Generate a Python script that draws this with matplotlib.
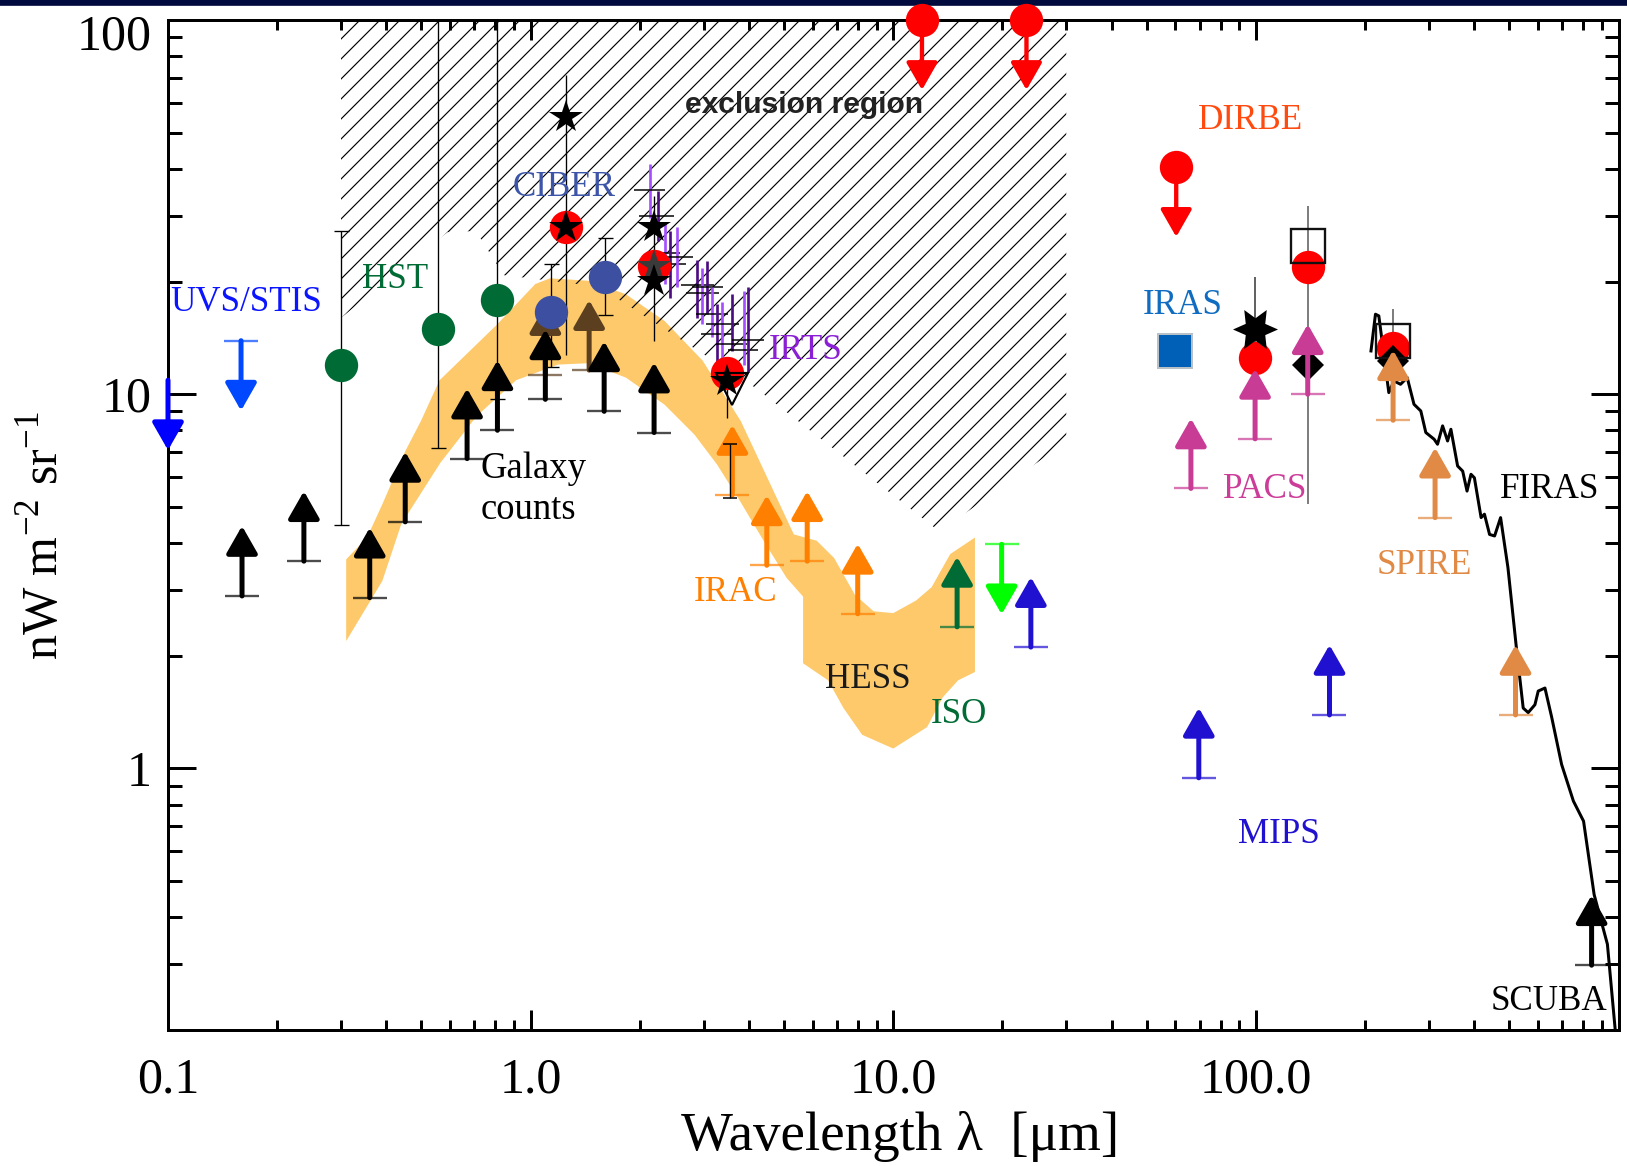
import numpy as np
import matplotlib
matplotlib.use('Agg')
import matplotlib.pyplot as plt
import matplotlib.transforms as mtransforms
from matplotlib.patches import FancyArrowPatch, Polygon, Rectangle
from matplotlib.ticker import NullFormatter

plt.rcParams['font.family'] = ['Liberation Serif', 'DejaVu Serif']
plt.rcParams['mathtext.fontset'] = 'custom'
plt.rcParams['mathtext.rm'] = 'Liberation Serif'
plt.rcParams['hatch.linewidth'] = 0.7

# ---------------- data (wavelength in micron, intensity in nW m^-2 sr^-1) -------------
# HESS band: upper edge left->right, lower edge right->left
band_up_x = [0.31, 0.354, 0.39, 0.451, 0.498, 0.561, 0.805, 1.03, 1.13, 1.44, 1.83, 2.34,
             2.98, 3.8, 5.32, 6.15, 6.87, 7.84, 8.83, 10.0, 11.56, 12.76, 14.36, 16.8]
band_up_y = [3.62, 4.14, 5.08, 7.04, 8.47, 10.9, 15.3, 19.7, 20.4, 20.1, 18.5, 15.7,
             12.3, 8.47, 4.22, 4.06, 3.65, 2.91, 2.63, 2.6, 2.81, 3.05, 3.74, 4.14]
band_lo_x = [16.8, 15.1, 13.7, 12.4, 10.0, 8.21, 7.29, 6.61, 5.64, 5.64, 5.08, 4.39, 3.78,
             3.27, 2.83, 2.34, 1.83, 1.44, 1.19, 0.912, 0.71, 0.564, 0.44, 0.39, 0.31]
band_lo_y = [1.81, 1.72, 1.55, 1.29, 1.13, 1.23, 1.45, 1.72, 1.91, 2.88, 3.23, 4.06, 5.18,
             6.48, 7.8, 9.38, 11.08, 12.1, 12.0, 10.9, 8.74, 6.56, 4.5, 3.17, 2.19]

# exclusion region outline
excl_x = [0.3, 0.3, 0.59, 0.706, 0.843, 1.54, 4.17, 13.4, 30, 30]
excl_y = [100, 16.0, 27.1, 27.3, 20.8, 19.4, 10.4, 4.3, 7.45, 100]

# HST
hst_x = [0.30, 0.555, 0.81]
hst_y = [11.97, 14.9, 17.9]
hst_lo = [4.47, 7.2, 9.73]
hst_hi = [27.3, 150, 150]

# CIBER
ciber_x = [1.14, 1.6]
ciber_y = [16.6, 20.6]
ciber_lo = [11.8, 16.3]
ciber_hi = [22.3, 26.2]

# DIRBE detections and upper limits
dirbe_x = [1.25, 2.19, 3.48, 99.5, 139, 239]
dirbe_y = [28.0, 22.0, 11.4, 12.5, 21.9, 13.3]
dirbe_ul_x = [12.0, 23.3, 60.3]
dirbe_ul_y = [100, 100, 40.5]

# black stars (near-IR reanalyses)
star_x = [1.25, 1.25, 2.19, 2.19, 3.48]
star_y = [54.9, 28.0, 28.0, 20.1, 10.85]
star_err_x = [1.25, 2.19, 3.48]
star_err_y = [54.9, 28.0, 10.85]
star_err_lo = [12.7, 13.9, 8.66]
star_err_hi = [71.4, 33.8, 12.0]
grey_star_x = [2.19]
grey_star_y = [22.0]

# open triangle at 3.6 micron and extra error bar
tri_x = [3.6]
tri_y = [10.3]
extra_err_x = [3.55]
extra_err_lo = [5.28]
extra_err_hi = [7.34]

# IRTS
irts_x = [2.13, 2.24, 2.34, 2.43, 2.54, 2.87, 2.96, 3.06, 3.17, 3.27, 3.38, 3.59, 3.88, 3.98]
irts_y = [35.2, 30.0, 23.8, 22.3, 23.2, 19.6, 18.6, 19.3, 16.4, 14.5, 15.4, 13.6, 13.1, 14.0]
irts_lo = [29.6, 25.7, 19.7, 18.1, 19.3, 16.0, 15.4, 16.4, 14.2, 12.0, 12.5, 13.05, 12.0, 11.5]
irts_hi = [41.3, 35.0, 28.7, 27.3, 27.9, 22.9, 21.8, 22.7, 19.3, 17.4, 17.6, 18.5, 18.9, 19.3]
irts_xlo = [1.93, 1.99, 2.12, 2.20, 2.29, 2.60, 2.68, 2.78, 2.85, 2.95, 3.05, 3.25, 3.50, 3.60]
irts_xhi = [2.35, 2.49, 2.58, 2.68, 2.81, 3.20, 3.31, 3.40, 3.50, 3.62, 3.75, 3.95, 4.25, 4.40]

# UVS/STIS upper limits
uvs_x = [0.1, 0.159]
uvs_y = [10.9, 13.9]

# galaxy counts lower limits
gal_x = [0.16, 0.237, 0.36, 0.451, 0.668, 0.81, 1.098, 1.595, 2.19]
gal_y = [2.89, 3.58, 2.86, 4.56, 6.73, 8.01, 9.69, 9.0, 7.9]
brown_x = [1.098, 1.45]
brown_y = [11.25, 11.6]

# IRAC, ISO, MIPS, PACS, SPIRE, SCUBA lower limits
irac_x = [3.6, 4.48, 5.79, 7.98]
irac_y = [5.38, 3.49, 3.58, 2.59]
iso_x = [15.0]
iso_y = [2.39]
green_ul_x = [19.9]
green_ul_y = [3.97]
mips_x = [23.96, 69.6, 159.6]
mips_y = [2.11, 0.944, 1.39]
pacs_x = [66.2, 99.5, 139]
pacs_y = [5.6, 7.6, 10.0]
spire_x = [239, 312, 520]
spire_y = [8.52, 4.68, 1.39]
scuba_x = [843]
scuba_y = [0.298]

# far-IR points
iras_x = [59.8]
iras_y = [13.05]
osq_x = [139, 239]
osq_y = [24.9, 13.9]
diam_x = [139, 239]
diam_y = [11.95, 12.27]
diam_lo = [5.08, 8.5]
diam_hi = [31.8, 16.9]
hex_x = [99.5]
hex_y = [14.9]
hex_lo = [11.8]
hex_hi = [20.6]

# FIRAS spectrum
firas_x = [207.7, 213.7, 218.3, 232.6, 240.3, 250.6, 261.4, 272.9, 285, 294.2, 310.2, 316.9,
           327.3, 337.8, 345, 360, 371.8, 382.2, 391.9, 400.5, 417.9, 426.9, 441, 455.3, 473,
           495.6, 522.9, 546, 563.6, 588.2, 600.7, 626.9, 654.3, 696.8, 751, 801, 828.3,
           856.7, 932, 980.4]
firas_y = [13.05, 16.36, 16.19, 10.1, 10.85, 10.63, 11.08, 9.4, 9.02, 7.9, 7.58, 7.35, 8.23,
           7.5, 8.06, 6.43, 6.23, 5.51, 6.11, 5.98, 4.68, 4.78, 4.22, 4.18, 4.68, 3.44, 2.1,
           1.45, 1.41, 1.48, 1.61, 1.64, 1.37, 1.025, 0.818, 0.723, 0.577, 0.46, 0.339, 0.198]

# ---------------- figure --------------------------------------------------------------
fig = plt.figure(figsize=(1627 / 120, 1166 / 120), dpi=120)
fig.add_artist(Rectangle((0, 1 - 5 / 1166), 1, 5 / 1166, transform=fig.transFigure,
                         color='#000A3C', zorder=-1))
ax = fig.add_axes([168 / 1627, 136 / 1166, 1450.5 / 1627, 1010 / 1166])
ax.set_xscale('log')
ax.set_yscale('log')
ax.set_xlim(0.1, 1000)
ax.set_ylim(0.2, 100)

ARROW_DEX = 0.187  # arrow length in decades


def limit_arrow(x, y, color, down=False, cap=True, z=5, lw=3):
    tip = y / 10 ** ARROW_DEX if down else y * 10 ** ARROW_DEX
    ax.add_patch(FancyArrowPatch((x, y), (x, tip),
                                 arrowstyle='-|>,head_length=14,head_width=8',
                                 mutation_scale=1, lw=lw, color=color,
                                 shrinkA=0, shrinkB=0, zorder=z, clip_on=False))
    if cap:
        ax.plot(x, y, marker='_', ms=20, mew=1.4, color=color, alpha=0.7,
                zorder=z, clip_on=False)


# band and exclusion region
ax.fill(band_up_x + band_lo_x, band_up_y + band_lo_y, color='#FDC96B', lw=0, zorder=1)
ax.add_patch(Polygon(list(zip(excl_x, excl_y)), closed=True, facecolor='none',
                     edgecolor='black', lw=0, hatch='//', zorder=1.5))

# FIRAS
ax.plot(firas_x, firas_y, color='black', lw=1.8, zorder=3)

# thin error bars
ax.errorbar(hst_x, hst_y, yerr=[np.subtract(hst_y, hst_lo), np.subtract(hst_hi, hst_y)],
            fmt='none', ecolor='black', elinewidth=0.8, capsize=4.5, capthick=0.8, zorder=2.5)
ax.errorbar(ciber_x, ciber_y, yerr=[np.subtract(ciber_y, ciber_lo), np.subtract(ciber_hi, ciber_y)],
            fmt='none', ecolor='black', elinewidth=0.8, capsize=4.5, capthick=0.8, zorder=2.5)
ax.errorbar(star_err_x, star_err_y,
            yerr=[np.subtract(star_err_y, star_err_lo), np.subtract(star_err_hi, star_err_y)],
            fmt='none', ecolor='black', elinewidth=0.8, capsize=0, zorder=2.5)
ax.vlines(extra_err_x, extra_err_lo, extra_err_hi, color='black', lw=0.8, zorder=5.5)
ax.plot(extra_err_x * 2, extra_err_lo + extra_err_hi, ls='none', marker='_', ms=8,
        mew=0.9, color='black', zorder=5.5)
ax.vlines(diam_x, diam_lo, diam_hi, color='#666666', lw=1.0, zorder=2.5)
ax.vlines(hex_x, hex_lo, hex_hi, color='#444444', lw=1.0, zorder=2.5)

# IRTS crosses
for i in range(len(irts_x)):
    c = '#4B0C82' if i % 2 else '#A64DFF'
    ax.vlines(irts_x[i], irts_lo[i], irts_hi[i], color=c, lw=1.6, zorder=2.6)
    ax.hlines(irts_y[i], irts_xlo[i], irts_xhi[i], color='black', lw=0.9, zorder=2.6)

# brown arrows beneath the circles
for x, y in zip(brown_x, brown_y):
    limit_arrow(x, y, '#5B3F1F', z=3)

# markers
mk = dict(ls='none', clip_on=False, mew=0)
ax.plot(hst_x, hst_y, marker='o', ms=20, color='#006B35', zorder=4, **mk)
ax.plot(ciber_x, ciber_y, marker='o', ms=20, color='#3D4FA0', zorder=4, **mk)
ax.plot(dirbe_x, dirbe_y, marker='o', ms=20, color='#FF0000', zorder=4, **mk)
ax.plot(dirbe_ul_x, dirbe_ul_y, marker='o', ms=20, color='#FF0000', zorder=4.2, **mk)
ax.plot(iras_x, iras_y, marker='s', ms=20, color='#0060B8', mec='#B8C0C8', mew=1.2,
        ls='none', zorder=4)
ax.plot(osq_x, osq_y, marker='s', ms=20, mfc='none', mec='#111111', mew=1.4, ls='none', zorder=4.3)
ax.plot(diam_x, diam_y, marker='D', ms=14, color='black', ls='none', mew=0, zorder=4.1)
ax.plot(hex_x, hex_y, marker=(6, 1, 30), ms=27, color='black', ls='none', mew=0, zorder=4.4)
ax.plot(grey_star_x, grey_star_y, marker='*', ms=21, color='#3A3A3A', ls='none', mew=0, zorder=4.4)
ax.plot(star_x, star_y, marker='*', ms=21, color='black', ls='none', mew=0, zorder=4.5)
ax.plot(tri_x, tri_y, marker='v', ms=19, mfc='none', mec='black', mew=1.3, ls='none', zorder=4.5)

# upper limits
limit_arrow(uvs_x[0], uvs_y[0], '#0000FF', down=True, cap=False)
limit_arrow(uvs_x[1], uvs_y[1], '#0048FF', down=True)
for x, y in zip(dirbe_ul_x, dirbe_ul_y):
    limit_arrow(x, y, '#FF0000', down=True, cap=False, lw=2.6)
limit_arrow(green_ul_x[0], green_ul_y[0], '#00FF00', down=True)

# lower limits
for x, y in zip(gal_x, gal_y):
    limit_arrow(x, y, 'black')
for x, y in zip(irac_x, irac_y):
    limit_arrow(x, y, '#FF8000')
limit_arrow(iso_x[0], iso_y[0], '#006B35')
for x, y in zip(mips_x, mips_y):
    limit_arrow(x, y, '#2010D0')
for x, y in zip(pacs_x, pacs_y):
    limit_arrow(x, y, '#C83C96')
for x, y in zip(spire_x, spire_y):
    limit_arrow(x, y, '#E08A45')
limit_arrow(scuba_x[0], scuba_y[0], 'black')

# labels
lab = dict(fontsize=21, ha='center', va='baseline', zorder=6)
ax.text(5.68, 56.5, 'exclusion region', family=['Liberation Sans', 'DejaVu Sans'],
        fontweight='bold', fontsize=18, color='#222222', ha='center', va='baseline', zorder=6)
ax.text(0.164, 16.7, 'UVS/STIS', color='#0A14FF', **lab)
ax.text(0.422, 19.2, 'HST', color='#006B35', **lab)
ax.text(1.234, 33.9, 'CIBER', color='#3D55A8', **lab)
ax.text(5.75, 12.4, 'IRTS', color='#8B1FD6', **lab)
ax.text(0.729, 5.98, 'Galaxy', color='black', fontsize=22, ha='left', va='baseline', zorder=6)
ax.text(0.729, 4.63, 'counts', color='black', fontsize=22, ha='left', va='baseline', zorder=6)
ax.text(3.67, 2.81, 'IRAC', color='#FF8000', **lab)
ax.text(8.51, 1.64, 'HESS', color='#1A1A1A', **lab)
ax.text(15.2, 1.32, 'ISO', color='#006B35', **lab)
ax.text(96.6, 51.1, 'DIRBE', color='#FF4A10', **lab)
ax.text(62.7, 16.36, 'IRAS', color='#0F6CC0', **lab)
ax.text(106.1, 5.29, 'PACS', color='#CC3C99', **lab)
ax.text(645, 5.29, 'FIRAS', color='black', **lab)
ax.text(292.3, 3.30, 'SPIRE', color='#E08A45', **lab)
ax.text(115.6, 0.633, 'MIPS', color='#2010D0', **lab)
ax.text(643.6, 0.2255, 'SCUBA', color='black', **lab)

# axes styling
ax.set_xticks([0.1, 1, 10, 100, 1000], ['0.1', '1.0', '10.0', '100.0', ''])
ax.set_yticks([1, 10, 100], ['1', '10', '100'])
ax.xaxis.set_minor_formatter(NullFormatter())
ax.yaxis.set_minor_formatter(NullFormatter())
ax.tick_params(which='both', direction='in', top=True, right=True, width=1.8,
               labelsize=30, colors='black')
ax.tick_params(axis='y', which='major', length=17, pad=10)
ax.tick_params(axis='y', which='minor', length=8.5)
ax.tick_params(axis='x', which='major', length=12, pad=16)
ax.tick_params(axis='x', which='minor', length=6)
for s in ax.spines.values():
    s.set_linewidth(1.8)

# the top label "100" sits a little below its tick in the original
top_lbl = ax.yaxis.get_major_ticks()[2].label1
top_lbl.set_transform(top_lbl.get_transform() +
                      mtransforms.ScaledTranslation(0, -12 / 120, fig.dpi_scale_trans))

ax.set_xlabel('Wavelength λ  [μm]', fontsize=33)
ax.xaxis.set_label_coords(0.505, -0.105)
ax.xaxis.label.set_va('center')
ax.set_ylabel(r'nW m$^{\mathregular{-2}}$ sr$^{\mathregular{-1}}$', fontsize=30)
ax.yaxis.set_label_coords(-0.085, 0.49)
ax.yaxis.label.set_va('center')

fig.savefig('out.png', dpi=120)
